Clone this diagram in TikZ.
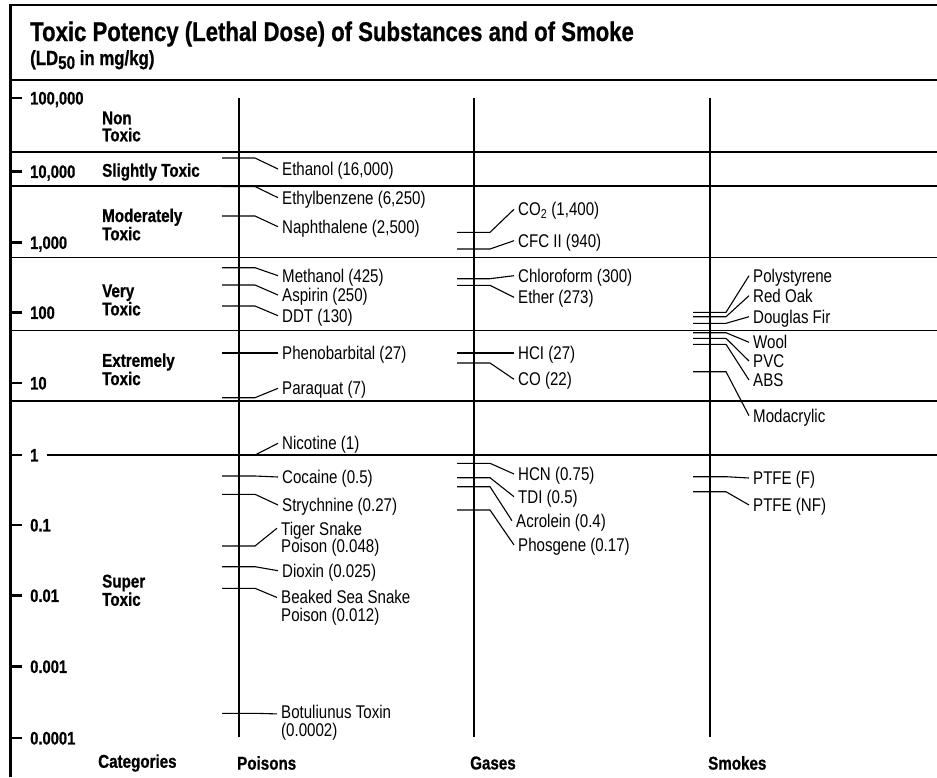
\documentclass[tikz,border=0pt]{standalone}
\usepackage{fontspec}
\setmainfont[FakeStretch=0.82, BoldFeatures={FakeBold=0.8}]{Liberation Sans}
\usepackage{tikz}

\begin{document}
\begin{tikzpicture}[x=1pt, y=-1pt,
    catline/.style={line width=1.2pt},
    axisline/.style={line width=2.8pt},
    leader/.style={line width=1.1pt},
    item/.style={anchor=west, inner xsep=4pt, inner ysep=0pt, text height=13.2pt, text depth=0pt, font=\fontsize{18.4}{17.5}\selectfont},
    itemtwo/.style={anchor=west, inner xsep=4pt, inner ysep=0pt, align=left, font=\fontsize{18.4}{17.5}\selectfont},
    ticklab/.style={anchor=west, inner xsep=3pt, inner ysep=0pt, text height=12.9pt, text depth=0pt, font=\bfseries\fontsize{18}{17.5}\selectfont},
    heading/.style={anchor=west, inner sep=0pt, align=left, font=\bfseries\fontsize{18.5}{17}\selectfont}]
    \useasboundingbox (0,0) rectangle (937,777);
    \fill[white] (0,0) rectangle (937,777);

    % frame and header
    \draw[line width=3pt] (10,4) -- (10,777);
    \draw[line width=2.5pt] (8.5,5) -- (937,5);
    \draw[line width=1.5pt] (10,80) -- (937,80);
    \node[anchor=base west, inner sep=0pt, font=\bfseries\fontsize{27}{28}\selectfont] (title) at (30,41) {Toxic Potency (Lethal Dose) of Substances and of Smoke};
    \node[anchor=base west, inner sep=0pt, font=\bfseries\fontsize{20.5}{20}\selectfont] (subtitle) at (30,65) {(LD\raisebox{-4pt}{\fontsize{18.5}{18}\selectfont 50} in mg/kg)};

    % dose scale
    \foreach \y/\lab [count=\i] in {98/{100,000}, 171.5/{10,000}, 242.5/{1,000}, 312.5/100, 383/10, 455/1, 525/0.1, 595.5/0.01, 666.5/0.001, 738/0.0001} {
        \draw[line width=2.5pt] (10,\y) -- (22,\y);
        \node[ticklab] (t\i) at (27,\y) {\lab};
    }

    % category borders
    \foreach \y in {152,186,257.7,330.7,401}
        \draw[catline] (10,\y) -- (937,\y);
    \draw[catline] ([xshift=5pt]t6.east) -- (937,455);

    \node[heading] (nontoxic) at (102,126.5) {Non\\Toxic};
    \node[heading] (slightly) at (102,172) {Slightly Toxic};
    \node[heading] (moderately) at (102,224.5) {Moderately\\Toxic};
    \node[heading] (very) at (102,300) {Very\\Toxic};
    \node[heading] (extremely) at (102,369.3) {Extremely\\Toxic};
    \node[heading] (super) at (102,590.3) {Super\\Toxic};

    % columns
    \draw[axisline] (239,98) -- (239,737);
    \draw[axisline] (474,98) -- (474,737);
    \draw[axisline] (710,98) -- (710,737);
    \node[heading] (categories) at (98,763) {Categories};
    \node[heading] (poisons) at (237,763) {Poisons};
    \node[heading] (gases) at (470,763) {Gases};
    \node[heading] (smokes) at (708,763) {Smokes};

    % poisons
    \coordinate (ethanol-t) at (239,158);
    \node[item] (ethanol) at (278,169) {Ethanol (16,000)};
    \coordinate (ethylbenzene-t) at (239,186.5);
    \node[item] (ethylbenzene) at (278,197.7) {Ethylbenzene (6,250)};
    \coordinate (naphthalene-t) at (239,216);
    \node[item] (naphthalene) at (278,226.7) {Naphthalene (2,500)};
    \coordinate (methanol-t) at (239,267.7);
    \node[item] (methanol) at (278,275.7) {Methanol (425)};
    \coordinate (aspirin-t) at (239,285);
    \node[item] (aspirin) at (278,295) {Aspirin (250)};
    \coordinate (ddt-t) at (239,306);
    \node[item] (ddt) at (278,315.7) {DDT (130)};
    \coordinate (phenobarbital-t) at (239,353);
    \node[item] (phenobarbital) at (278,353) {Phenobarbital (27)};
    \coordinate (paraquat-t) at (239,397.7);
    \node[item] (paraquat) at (278,388.3) {Paraquat (7)};
    \coordinate (nicotine-t) at (239,455);
    \node[item] (nicotine) at (278,443.3) {Nicotine (1)};
    \coordinate (cocaine-t) at (239,476);
    \node[item] (cocaine) at (278,477) {Cocaine (0.5)};
    \coordinate (strychnine-t) at (239,494.3);
    \node[item] (strychnine) at (278,505) {Strychnine (0.27)};
    \coordinate (tiger-t) at (239,546);
    \node[itemtwo] (tiger) at (277,539.2) {Tiger Snake\\Poison (0.048)};
    \coordinate (dioxin-t) at (239,566.7);
    \node[item] (dioxin) at (278,570.7) {Dioxin (0.025)};
    \coordinate (beaked-t) at (239,588.3);
    \node[itemtwo] (beaked) at (277,607.5) {Beaked Sea Snake\\Poison (0.012)};
    \coordinate (botulinus-t) at (239,713.3);
    \node[itemtwo] (botulinus) at (277,722.9) {Botuliunus Toxin\\(0.0002)};

    % gases
    \coordinate (co2-t) at (474,232.3);
    \node[item] (co2) at (514,209.3) {CO\textsubscript{2} (1,400)};
    \coordinate (cfc-t) at (474,249);
    \node[item] (cfc) at (514,240.7) {CFC II (940)};
    \coordinate (chloroform-t) at (474,278.7);
    \node[item] (chloroform) at (514,275.7) {Chloroform (300)};
    \coordinate (ether-t) at (474,285.3);
    \node[item] (ether) at (514,297.3) {Ether (273)};
    \coordinate (hci-t) at (474,353);
    \node[item] (hci) at (514,353) {HCI (27)};
    \coordinate (co-t) at (474,363);
    \node[item] (co) at (514,379.3) {CO (22)};
    \coordinate (hcn-t) at (474,463.3);
    \node[item] (hcn) at (514,474) {HCN (0.75)};
    \coordinate (tdi-t) at (474,477.7);
    \node[item] (tdi) at (514,496.7) {TDI (0.5)};
    \coordinate (acrolein-t) at (474,486.7);
    \node[item] (acrolein) at (512,520.7) {Acrolein (0.4)};
    \coordinate (phosgene-t) at (474,510);
    \node[item] (phosgene) at (514,545) {Phosgene (0.17)};

    % smokes
    \coordinate (polystyrene-t) at (710,312.3);
    \node[item] (polystyrene) at (749,275.7) {Polystyrene};
    \coordinate (redoak-t) at (710,316.7);
    \node[item] (redoak) at (749,295.7) {Red Oak};
    \coordinate (douglasfir-t) at (710,323.3);
    \node[item] (douglasfir) at (749,316.7) {Douglas Fir};
    \coordinate (wool-t) at (710,332.7);
    \node[item] (wool) at (749,342.3) {Wool};
    \coordinate (pvc-t) at (710,338.3);
    \node[item] (pvc) at (749,361) {PVC};
    \coordinate (abs-t) at (710,344.3);
    \node[item] (abs) at (749,380) {ABS};
    \coordinate (modacrylic-t) at (710,371.7);
    \node[item] (modacrylic) at (749,415.7) {Modacrylic};
    \coordinate (ptfef-t) at (710,476.7);
    \node[item] (ptfef) at (749,478) {PTFE (F)};
    \coordinate (ptfenf-t) at (710,491.7);
    \node[item] (ptfenf) at (749,505) {PTFE (NF)};

    % leaders
    \foreach \n in {ethanol,ethylbenzene,naphthalene,methanol,aspirin,ddt,phenobarbital,paraquat,nicotine,cocaine,strychnine,dioxin,
                    co2,cfc,chloroform,ether,hci,co,hcn,tdi,acrolein,phosgene,
                    polystyrene,redoak,douglasfir,wool,pvc,abs,modacrylic,ptfef,ptfenf}
        \draw[leader] ([xshift=-17pt]\n-t) -- ([xshift=16pt]\n-t) -- (\n.west);
    \draw[leader] ([xshift=-17pt]tiger-t) -- ([xshift=16pt]tiger-t) -- ([yshift=11pt]tiger.west);
    \draw[leader] ([xshift=-17pt]beaked-t) -- ([xshift=16pt]beaked-t) -- ([yshift=10pt]beaked.west);
    \draw[leader] ([xshift=-17pt]botulinus-t) -- ([xshift=16pt]botulinus-t) -- ([yshift=9pt]botulinus.west);
\end{tikzpicture}
\end{document}
